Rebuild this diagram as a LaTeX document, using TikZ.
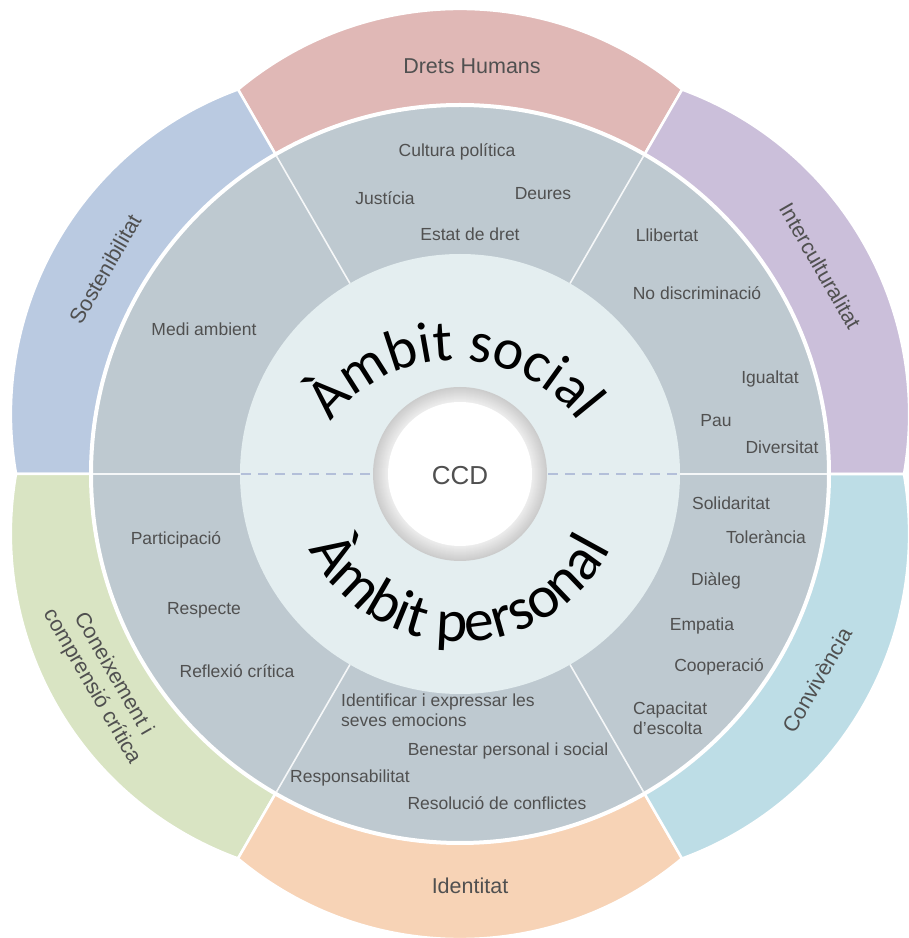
\documentclass[tikz,border=0pt]{standalone}
\usepackage{fontspec}
\setmainfont{Liberation Sans}
\newfontfamily\ambitfont{Carlito}
\usetikzlibrary{calc,decorations.text}

\definecolor{dhred}{HTML}{E0B8B6}
\definecolor{sosblue}{HTML}{BACAE1}
\definecolor{intpurple}{HTML}{CBBFDA}
\definecolor{conegreen}{HTML}{D9E4C3}
\definecolor{idorange}{HTML}{F7D3B6}
\definecolor{convblue}{HTML}{BDDDE6}
\definecolor{ringgrey}{HTML}{BEC9D0}
\definecolor{ambitlight}{HTML}{E4EEF0}
\definecolor{labelgrey}{HTML}{505050}
\definecolor{dashblue}{HTML}{B3BFD9}

\tikzset{
    petal/.style={fill=#1, draw=white, line width=2.5pt},
    sector line/.style={draw=white!85!ringgrey, line width=1.6pt},
    value/.style={font=\fontsize{17.5}{20}\selectfont, text=labelgrey, inner sep=0pt},
    area/.style={font=\fontsize{21.5}{25}\selectfont, text=labelgrey, inner sep=0pt},
    ambit/.style 2 args={decorate, decoration={text along path, text align=center, text={|\ambitfont\fontsize{#1}{#1}\selectfont|#2}}},
}

\begin{document}
\begin{tikzpicture}[x=1pt, y=1pt]
    \useasboundingbox (0,0) rectangle (909,938);
    \coordinate (C) at (460,464);

    % outer petals
    \foreach \m/\col in {90/dhred, 150/sosblue, 30/intpurple, 210/conegreen, 270/idorange, 330/convblue} {
        \path[petal=\col] (C) -- ($(C)+(\m-30:444)$) arc[start angle=\m-39.9, end angle=\m+39.9, radius=346] -- cycle;
    }

    % grey ring with its sectors
    \fill[ringgrey, draw=white, line width=4pt] (C) circle[radius=369];
    \foreach \a in {0,60,120,180,240,300}
        \draw[sector line] ($(C)+(\a:220)$) -- ($(C)+(\a:367)$);

    % light disk
    \fill[ambitlight] (C) circle[radius=220];
    \draw[dashblue, line width=1.6pt, dash pattern=on 10pt off 7pt] ($(C)+(180:219)$) -- ($(C)+(180:88)$);
    \draw[dashblue, line width=1.6pt, dash pattern=on 10pt off 7pt] ($(C)+(0:88)$) -- ($(C)+(0:219)$);

    % CCD ring
    \foreach \i in {0,...,15} {
        \pgfmathsetmacro\g{40-1.8*\i}
        \fill[gray!\g] (C) circle[radius=87-\i];
    }
    \fill[white] (C) circle[radius=72];
    \node[font=\fontsize{26}{30}\selectfont, text=labelgrey] (ccd) at ($(C)+(0,-2)$) {CCD};

    % curved titles
    \path[ambit={58}{Àmbit social}] ($(455,423)+(165:155)$) arc[start angle=165, end angle=15, radius=155];
    \path[ambit={60}{Àmbit personal}] ($(C)+(190:168)$) arc[start angle=190, end angle=350, radius=168];

    % values in the grey ring
    \node[value] (cultura) at (457,786) {Cultura política};
    \node[value] (justicia) at (385,740) {Justícia};
    \node[value] (deures) at (543,744) {Deures};
    \node[value] (estat) at (470,704) {Estat de dret};
    \node[value] (llibertat) at (667,703) {Llibertat};
    \node[value] (nodiscr) at (697,645) {No discriminació};
    \node[value] (medi) at (204,609) {Medi ambient};
    \node[value] (igualtat) at (770,559) {Igualtat};
    \node[value] (pau) at (716,517) {Pau};
    \node[value] (diversitat) at (782,491) {Diversitat};
    \node[value] (solidaritat) at (731,435) {Solidaritat};
    \node[value] (tolerancia) at (766,401) {Tolerància};
    \node[value] (dialeg) at (716,357) {Diàleg};
    \node[value] (empatia) at (702,312) {Empatia};
    \node[value] (cooperacio) at (719,271) {Cooperació};
    \node[value, anchor=west, align=left] (capacitat) at (633,220) {Capacitat\\d'escolta};
    \node[value] (participacio) at (176,398) {Participació};
    \node[value] (respecte) at (204,328) {Respecte};
    \node[value] (reflexio) at (237,267) {Reflexió crítica};
    \node[value, anchor=west, align=left] (identificar) at (341,228) {Identificar i expressar les\\seves emocions};
    \node[value] (benestar) at (508,187) {Benestar personal i social};
    \node[value] (responsabilitat) at (350,160) {Responsabilitat};
    \node[value] (resolucio) at (497,135) {Resolució de conflictes};

    % petal titles
    \node[area] (drets) at (472,872) {Drets Humans};
    \node[area, rotate=60] (sostenibilitat) at ($(C)+(150:410)$) {Sostenibilitat};
    \node[area, rotate=-60] (interculturalitat) at ($(C)+(30:416)$) {Interculturalitat};
    \node[area, rotate=-60, align=center] (coneixement) at ($(C)+(210:413)$) {Coneixement i\\comprensió crítica};
    \node[area] (identitat) at (470,52) {Identitat};
    \node[area, rotate=60] (convivencia) at ($(C)+(330:412)$) {Convivència};
\end{tikzpicture}
\end{document}
